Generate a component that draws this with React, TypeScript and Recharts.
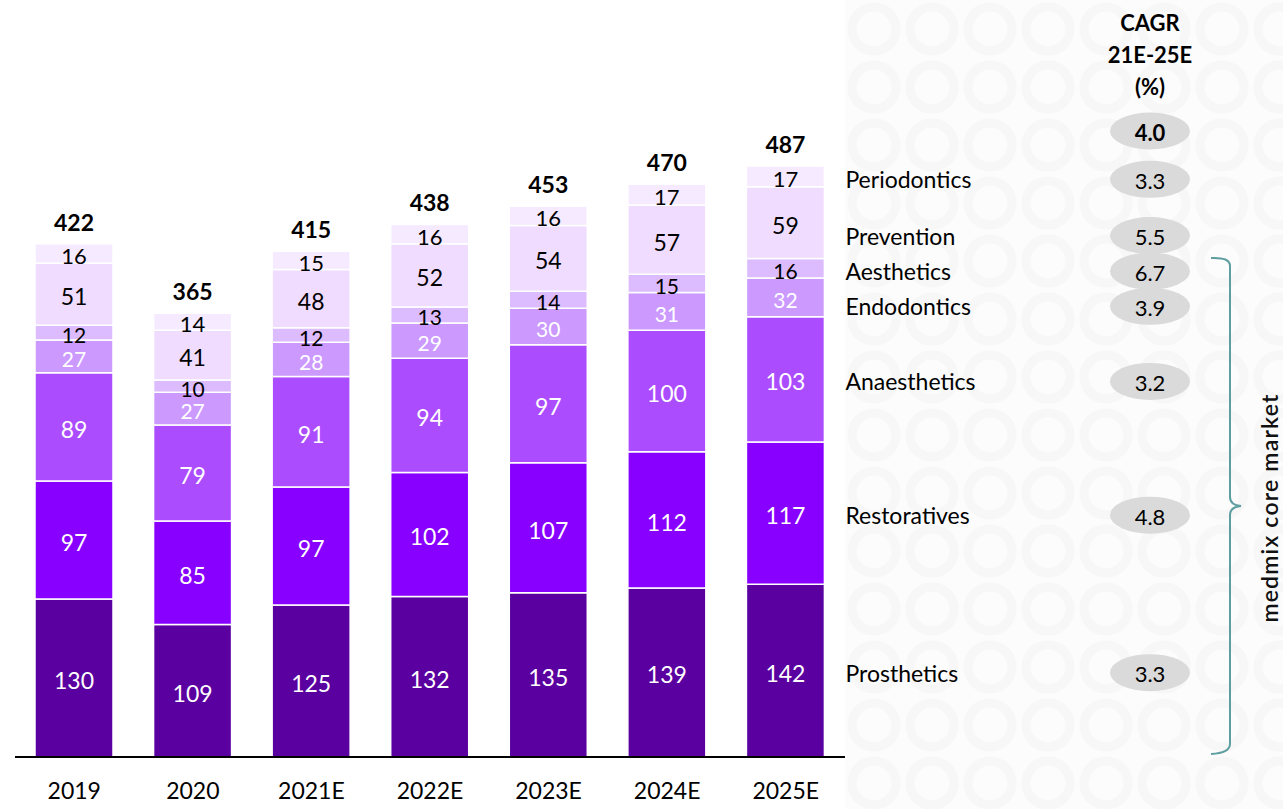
import React from 'react';
import { BarChart, Bar, XAxis, YAxis, LabelList } from 'recharts';

const years = ['2019', '2020', '2021E', '2022E', '2023E', '2024E', '2025E'];
const prosthetics = [130, 109, 125, 132, 135, 139, 142];
const restoratives = [97, 85, 97, 102, 107, 112, 117];
const anaesthetics = [89, 79, 91, 94, 97, 100, 103];
const endodontics = [27, 27, 28, 29, 30, 31, 32];
const aesthetics = [12, 10, 12, 13, 14, 15, 16];
const prevention = [51, 41, 48, 52, 54, 57, 59];
const periodontics = [16, 14, 15, 16, 16, 17, 17];
const totals = [422, 365, 415, 438, 453, 470, 487];
const seriesNames = ['Prosthetics', 'Restoratives', 'Anaesthetics', 'Endodontics', 'Aesthetics', 'Prevention', 'Periodontics'];
const cagr = ['3.3', '4.8', '3.2', '3.9', '6.7', '5.5', '3.3'];
const totalCagr = '4.0';
const headerLines = ['CAGR', '21E-25E', '(%)'];
const bracketLabel = 'medmix core market';

const seriesValues = [prosthetics, restoratives, anaesthetics, endodontics, aesthetics, prevention, periodontics];
const keys = ['s0', 's1', 's2', 's3', 's4', 's5', 's6'];
const colors = ['#5A00A0', '#8800FF', '#AB4DFF', '#CC99FF', '#DDBBFF', '#EFDCFF', '#F5EAFF'];
const labelColors = ['#fff', '#fff', '#fff', '#fff', '#000', '#000', '#000'];
const legendDy = [2, 2, 2, 9, 3, 13, 3];
const labelSize = [23, 23, 23, 21, 21, 23, 22];

const data = years.map((y, i) => {
  const row: any = { year: y, total: totals[i] };
  seriesValues.forEach((arr, si) => (row[keys[si]] = arr[i]));
  return row;
});

const FONT = 'Lato, "Open Sans", "DejaVu Sans", sans-serif';
const txt: React.CSSProperties = { fontFamily: FONT };

const makeLabel = (si: number) => (props: any) => {
  const { x, y, width, height, index, value } = props;
  const cx = Number(x) + Number(width) / 2;
  const cy = Number(y) + Number(height) / 2;
  const last = index === years.length - 1;
  return (
    <g>
      <text x={cx} y={cy + 2} textAnchor="middle" dominantBaseline="central" fontSize={labelSize[si]} fill={labelColors[si]} style={txt}>
        {value}
      </text>
      {si === seriesValues.length - 1 && (
        <text x={cx} y={Number(y) - 22} textAnchor="middle" dominantBaseline="central" fontSize={23} fontWeight={700} fill="#000" style={txt}>
          {totals[index]}
        </text>
      )}
      {last && (
        <g>
          <text x={Number(x) + Number(width) + 21} y={cy + legendDy[si]} dominantBaseline="central" fontSize={23} fill="#000" style={txt}>
            {seriesNames[si]}
          </text>
          <ellipse cx={1150} cy={cy + legendDy[si]} rx={40} ry={18.5} fill="#DADADA" />
          <text x={1150} y={cy + legendDy[si] + 1} textAnchor="middle" dominantBaseline="central" fontSize={22} fill="#000" style={txt}>
            {cagr[si]}
          </text>
        </g>
      )}
    </g>
  );
};

export default function App() {
  return (
    <div style={{ position: 'relative', width: 1283, height: 809, background: '#fff' }}>
      <style>{`body{margin:0}`}</style>
      <svg width={1283} height={809} style={{ position: 'absolute', left: 0, top: 0 }}>
        <defs>
          <pattern id="rings" x="845" y="0" width="58" height="58" patternUnits="userSpaceOnUse">
            <rect width="58" height="58" fill="#FCFCFC" />
            <circle cx="29" cy="29" r="22" fill="none" stroke="#F7F7F7" strokeWidth="9" />
          </pattern>
        </defs>
        <rect x={845} y={0} width={438} height={809} fill="url(#rings)" />
      </svg>
      <div style={{ position: 'absolute', left: 0, top: 0 }}>
        <BarChart width={1283} height={809} data={data} margin={{ top: 149, right: 438, bottom: 0, left: 15 }} barCategoryGap={0}>
          <YAxis hide domain={[0, 500]} />
          <XAxis
            dataKey="year"
            height={52}
            tickLine={false}
            tickMargin={20}
            axisLine={{ stroke: '#000', strokeWidth: 2 }}
            tick={{ fontSize: 23, fill: '#000', fontFamily: FONT } as any}
            interval={0}
          />
          {keys.map((k, si) => (
            <Bar key={k} dataKey={k} stackId="a" fill={colors[si]} stroke="#fff" strokeWidth={1.5} barSize={78} isAnimationActive={false}>
              <LabelList dataKey={k} content={makeLabel(si)} />
            </Bar>
          ))}
        </BarChart>
      </div>
      <svg width={1283} height={809} style={{ position: 'absolute', left: 0, top: 0, pointerEvents: 'none' }}>
        {headerLines.map((l, i) => (
          <text key={l} x={1150} y={22 + i * 32} textAnchor="middle" dominantBaseline="central" fontSize={22} fontWeight={700} fill="#000" style={txt}>
            {l}
          </text>
        ))}
        <ellipse cx={1150} cy={131} rx={40} ry={18.5} fill="#DADADA" />
        <text x={1150} y={132} textAnchor="middle" dominantBaseline="central" fontSize={22} fontWeight={700} fill="#000" style={txt}>
          {totalCagr}
        </text>
        <path
          d="M1211 258 Q1230 257 1230 266 L1230 497 Q1230 505 1241 506 Q1230 507 1230 515 L1230 744 Q1230 753 1211 754"
          fill="none"
          stroke="#5E9EA0"
          strokeWidth={2}
        />
        <text
          x={1269}
          y={508}
          transform="rotate(-90 1269 508)"
          textAnchor="middle"
          dominantBaseline="central"
          fontSize={23}
          fontWeight={600}
          letterSpacing={1.2}
          fill="#111"
          style={txt}
        >
          {bracketLabel}
        </text>
      </svg>
    </div>
  );
}
